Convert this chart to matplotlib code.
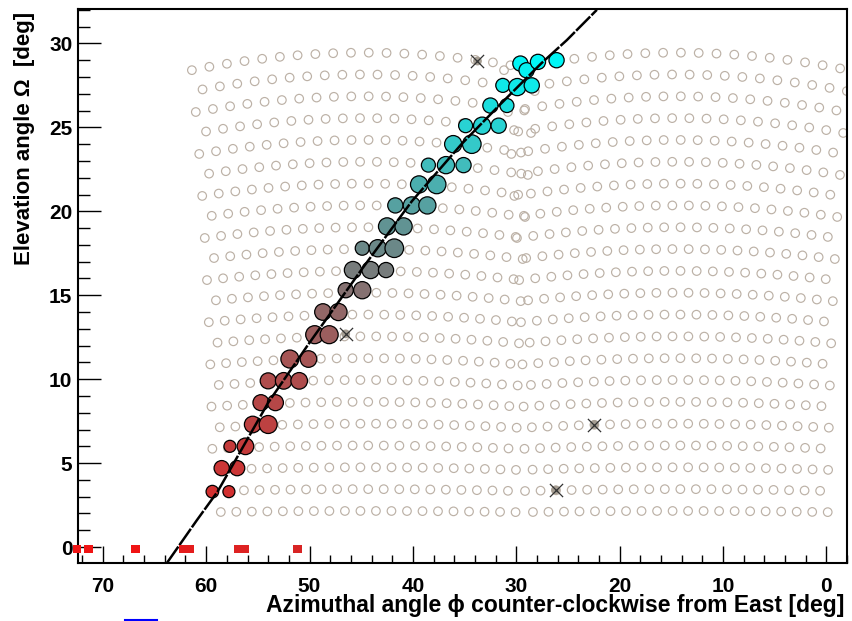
import numpy as np
import matplotlib
matplotlib.use('Agg')
import matplotlib.pyplot as plt
from matplotlib.colors import LinearSegmentedColormap
from matplotlib.ticker import MultipleLocator
from matplotlib.lines import Line2D

# camera geometry: two cameras side by side, hexagonal pixel layout
cam_az = [44.7, 14.5]      # azimuth of camera centre [deg]
n_rows = 22
n_cols = 20
row_el0 = 2.15             # elevation of lowest pixel row [deg]
row_pitch = 1.30
col_pitch = 1.50

# triggered pixels (azimuth, elevation, marker radius in px)
hit_az = [59.4, 57.8, 58.5, 57.0, 57.7, 56.2, 55.5, 54.0, 54.7, 53.3,
          54.0, 52.5, 51.0, 51.9, 50.1, 49.5, 48.1, 48.7, 47.2, 46.5,
          44.9, 45.8, 44.1, 42.6, 44.9, 43.4, 41.8, 42.5, 40.9, 41.7,
          40.1, 38.6, 39.4, 37.7, 38.5, 36.8, 35.1, 36.1, 34.3, 34.9,
          33.3, 31.7, 32.5, 30.9, 31.3, 29.9, 28.5, 29.6, 29.0, 27.9,
          26.1]
hit_el = [3.3, 3.3, 4.7, 4.7, 6.0, 6.0, 7.3, 7.3, 8.6, 8.6,
          9.9, 9.9, 9.9, 11.2, 11.2, 12.65, 12.65, 14.0, 14.0, 15.3,
          15.3, 16.5, 16.5, 16.5, 17.8, 17.8, 17.8, 19.1, 19.1, 20.35,
          20.35, 20.35, 21.6, 21.6, 22.75, 22.75, 22.75, 24.0, 24.0, 25.1,
          25.1, 25.1, 26.3, 26.3, 27.5, 27.4, 27.5, 28.8, 28.4, 28.9,
          29.0]
hit_r = [6.3, 6.0, 7.6, 7.6, 6.0, 8.3, 8.3, 9.0, 8.0, 8.0,
         8.0, 8.3, 8.3, 9.0, 8.3, 9.0, 9.0, 8.3, 8.6, 7.6,
         8.6, 8.6, 8.6, 7.6, 7.0, 8.6, 9.3, 8.6, 8.6, 7.6,
         8.6, 8.6, 8.6, 9.3, 7.0, 8.6, 7.6, 8.6, 9.3, 7.0,
         8.6, 7.6, 7.6, 7.0, 7.0, 8.6, 7.6, 7.6, 7.6, 7.6,
         7.6]

# rejected pixels
noise_az = [33.75, 46.5, 22.45, 26.2]
noise_el = [28.95, 12.7, 7.3, 3.4]

# shower-detector plane track
sdp_az = [63.8, 60.9, 58.9, 54.0, 50.2, 45.0, 40.1, 35.3, 31.5, 27.6, 25.1, 22.2]
sdp_el = [-0.95, 1.6, 3.3, 8.6, 12.0, 16.5, 20.6, 24.0, 26.4, 28.8, 30.2, 32.0]

# surface stations on the time axis
sd_az = [72.5, 71.4, 66.8, 62.2, 61.6, 56.9, 56.3, 51.2]
sd_el = [-0.12] * 8
sd_col = ['#f01414', '#f01414', '#f01414', '#e41c1c', '#e41c1c',
          '#de2222', '#de2222', '#d82424']

plt.rcParams['font.family'] = ['Liberation Sans', 'DejaVu Sans']

fig = plt.figure(figsize=(8.52, 6.21), dpi=100)
ax = fig.add_axes([78/852, 1 - 563/621, 769/852, 554/621])

# pixel grid of both cameras
pix_az, pix_el = [], []
cols = np.arange(n_cols) - (n_cols - 1) / 2
for az0 in cam_az:
    for k in range(n_rows):
        b = np.radians(row_el0 + k * row_pitch)
        shift = col_pitch / 4 if k % 2 else -col_pitch / 4
        a = np.radians(cols * col_pitch + shift)
        pix_el.extend(np.degrees(np.arcsin(np.cos(a) * np.sin(b))))
        pix_az.extend(az0 + np.degrees(np.arctan2(np.sin(a), np.cos(a) * np.cos(b))))
ax.scatter(pix_az, pix_el, s=38, facecolors='none', edgecolors='#bcb1a6',
           linewidths=0.85, zorder=1)

# pulse time colour scale, red (early) to cyan (late)
cmap = LinearSegmentedColormap.from_list(
    'time', [(0.0, '#d23030'), (0.25, '#b04c4c'), (0.4, '#966464'),
             (0.47, '#847272'), (0.53, '#728080'), (0.62, '#609494'),
             (0.77, '#3ec0c0'), (1.0, '#00f6f6')])
sizes = [(2 * r * 0.72) ** 2 for r in hit_r]
ax.scatter(hit_az, hit_el, s=sizes, c=hit_el, cmap=cmap, vmin=3.3, vmax=29.0,
           edgecolors='black', linewidths=0.9, zorder=3)

ax.scatter(noise_az, noise_el, s=40, c='#a59d92', edgecolors='none', zorder=3)
ax.scatter(noise_az, noise_el, s=90, marker='x', c='#333333', linewidths=0.9, zorder=3)

ax.plot(sdp_az, sdp_el, color='black', lw=1.8, ls=(0, (8, 0.7)), zorder=4)

ax.scatter(sd_az, sd_el, s=40, marker='s', c=sd_col, edgecolors='none',
           zorder=5, clip_on=False)

ax.set_xlim(72.4, -2.0)
ax.set_ylim(-0.95, 32.05)

ax.xaxis.set_major_locator(MultipleLocator(10))
ax.xaxis.set_minor_locator(MultipleLocator(2))
ax.yaxis.set_major_locator(MultipleLocator(5))
ax.yaxis.set_minor_locator(MultipleLocator(1))
ax.tick_params(axis='x', which='major', direction='in', length=12, width=1, pad=10)
ax.tick_params(axis='x', which='minor', direction='in', length=5.5, width=1)
ax.tick_params(axis='y', which='major', direction='in', length=16.5, width=1, pad=4)
ax.tick_params(axis='y', which='minor', direction='in', length=8.5, width=1)
for lab in ax.get_xticklabels() + ax.get_yticklabels():
    lab.set_fontsize(15)
    lab.set_fontweight('bold')
for s in ax.spines.values():
    s.set_linewidth(1.5)

ax.set_xlabel('Azimuthal angle \u03d5 counter-clockwise from East [deg]',
              fontsize=16.5, fontweight='bold', loc='right')
ax.xaxis.set_label_coords(0.997, -0.0884)
ax.xaxis.label.set_va('baseline')
ax.set_ylabel('Elevation angle \u03a9  [deg]', fontsize=16, fontweight='bold', loc='top')
ax.yaxis.set_label_coords(-0.069, 0.995)
ax.yaxis.label.set_va('center')

fig.add_artist(Line2D([125/852, 157/852], [1.2/621, 1.2/621], color='#0000ff', lw=1.5))

plt.savefig('out.png', dpi=100)
